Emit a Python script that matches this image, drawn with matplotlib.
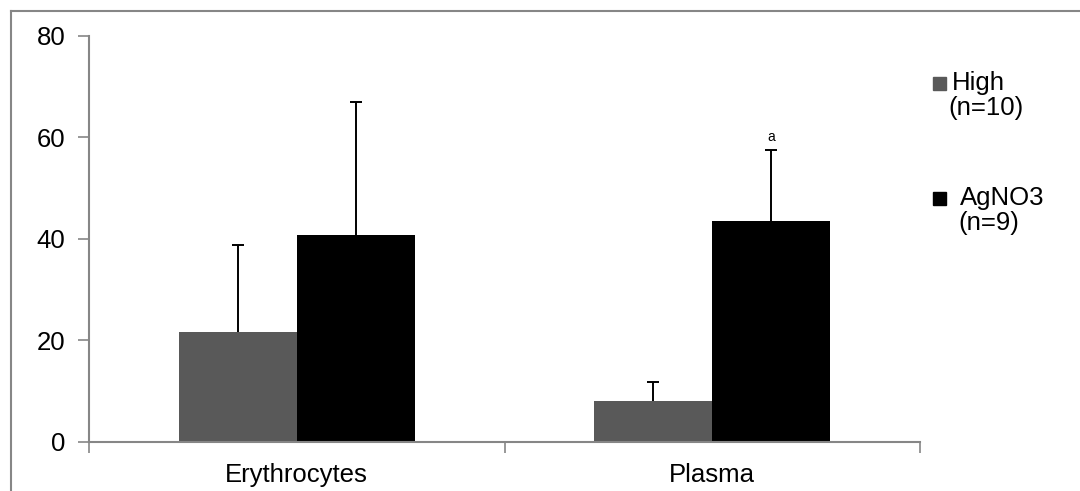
import numpy as np
import matplotlib
matplotlib.use("Agg")
import matplotlib.pyplot as plt
from matplotlib.patches import Rectangle
from matplotlib.lines import Line2D

plt.rcParams['font.family'] = ['Liberation Sans', 'DejaVu Sans']

categories = ['Erythrocytes', 'Plasma']
series = ['High', 'AgNO3']
series_n = ['(n=10)', '(n=9)']
high_vals = [21.7, 8.1]
high_err = [17.1, 3.7]
agno3_vals = [40.8, 43.5]
agno3_err = [26.2, 14.0]
sig_labels = ['', 'a']   # marks above AgNO3 bars
colors = ['#595959', '#000000']
gray = '#868686'
fs = 18.5

fig = plt.figure(figsize=(10.8, 4.91), dpi=100)
ax = fig.add_axes([0.0824, 0.0998, 0.852 - 0.0824, 0.9267 - 0.0998])

x = np.arange(len(categories))
w = 0.284
ekw = dict(elinewidth=1.4, capsize=4.3, capthick=1.4)
b1 = ax.bar(x - w / 2, high_vals, w, color=colors[0],
            yerr=[np.zeros(len(x)), high_err], ecolor='black', error_kw=ekw)
b2 = ax.bar(x + w / 2, agno3_vals, w, color=colors[1],
            yerr=[np.zeros(len(x)), agno3_err], ecolor='black', error_kw=ekw)

# only the upper caps are shown
for b, vals in [(b1, high_vals), (b2, agno3_vals)]:
    for cl in b.errorbar.lines[1]:
        if np.allclose(cl.get_ydata(), vals):
            cl.set_visible(False)

for i, lab in enumerate(sig_labels):
    if lab:
        ax.text(x[i] + w / 2, agno3_vals[i] + agno3_err[i] + 1.3, lab,
                ha='center', va='bottom', fontsize=10)

ax.set_xlim(-0.5, len(categories) - 0.5)
ax.set_ylim(0, 80)
ax.set_yticks([0, 20, 40, 60, 80])
ax.set_xticks(x)
ax.set_xticklabels(categories)
ax.set_xticks(np.arange(-0.5, len(categories)), minor=True)
ax.tick_params(axis='x', which='major', length=0, pad=15, labelsize=fs)
ax.tick_params(axis='x', which='minor', length=8, width=1.2, color=gray, direction='out')
ax.tick_params(axis='y', length=8, width=1.2, color=gray, direction='out', pad=9, labelsize=fs)

for s in ['top', 'right']:
    ax.spines[s].set_visible(False)
for s in ['left', 'bottom']:
    ax.spines[s].set_color(gray)
    ax.spines[s].set_linewidth(1.5)

# outer chart frame (top and left edges visible)
fig.add_artist(Line2D([11 / 1080, 11 / 1080], [0, 1 - 11 / 491], transform=fig.transFigure,
                      color=gray, lw=1.5))
fig.add_artist(Line2D([11 / 1080, 1], [1 - 11 / 491, 1 - 11 / 491], transform=fig.transFigure,
                      color=gray, lw=1.5))

# legend
leg_y = [83, 198]
text_x = [952, 960]
n_x = [948, 958]
for i, name in enumerate(series):
    yy = 1 - leg_y[i] / 491
    fig.add_artist(Rectangle((933 / 1080, yy - 6.5 / 491), 13 / 1080, 13 / 491,
                             transform=fig.transFigure, color=colors[i]))
    fig.text(text_x[i] / 1080, yy, name, fontsize=fs, va='center', ha='left')
    fig.text(n_x[i] / 1080, 1 - (leg_y[i] + 25) / 491, series_n[i], fontsize=fs,
             va='center', ha='left')

fig.savefig('out.png', dpi=100)
